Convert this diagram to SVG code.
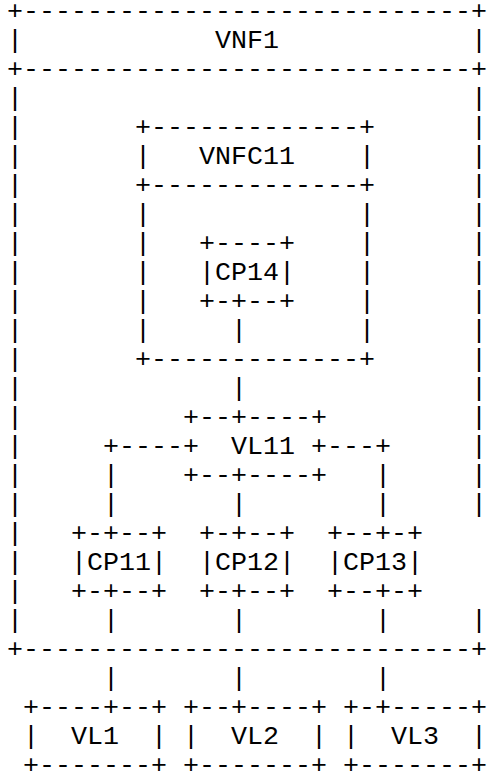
<svg xmlns="http://www.w3.org/2000/svg" width="490" height="782" viewBox="0 0 490 782" xml:space="preserve">
<style>
text{font-family:"Liberation Mono","Courier New",monospace;font-size:26.67px;fill:#000;white-space:pre}
</style>
<rect width="490" height="782" fill="#fff"/>
<g id="vnf1">
<text x="7" y="19">+----------------------------+</text>
<text x="7" y="48">|</text><text x="215" y="48">VNF1</text><text x="471" y="48">|</text>
<text x="7" y="77">+----------------------------+</text>
<text x="7" y="106">|</text><text x="471" y="106">|</text>
<text x="7" y="135">|</text><text x="471" y="135">|</text>
<text x="7" y="164">|</text><text x="471" y="164">|</text>
<text x="7" y="193">|</text><text x="471" y="193">|</text>
<text x="7" y="222">|</text><text x="471" y="222">|</text>
<text x="7" y="251">|</text><text x="471" y="251">|</text>
<text x="7" y="280">|</text><text x="471" y="280">|</text>
<text x="7" y="309">|</text><text x="471" y="309">|</text>
<text x="7" y="338">|</text><text x="471" y="338">|</text>
<text x="7" y="367">|</text><text x="471" y="367">|</text>
<text x="7" y="396">|</text><text x="471" y="396">|</text>
<text x="7" y="425">|</text><text x="471" y="425">|</text>
<text x="7" y="454">|</text><text x="471" y="454">|</text>
<text x="7" y="483">|</text><text x="471" y="483">|</text>
<text x="7" y="512">|</text><text x="471" y="512">|</text>
<text x="7" y="541">|</text>
<text x="7" y="570">|</text>
<text x="7" y="599">|</text>
<text x="7" y="628">|</text><text x="471" y="628">|</text>
<text x="7" y="657">+----------------------------+</text>
</g>
<g id="vnfc11">
<text x="135" y="135">+-------------+</text>
<text x="135" y="164">|</text><text x="199" y="164">VNFC11</text><text x="359" y="164">|</text>
<text x="135" y="193">+-------------+</text>
<text x="135" y="222">|</text><text x="359" y="222">|</text>
<text x="135" y="251">|</text><text x="359" y="251">|</text>
<text x="135" y="280">|</text><text x="359" y="280">|</text>
<text x="135" y="309">|</text><text x="359" y="309">|</text>
<text x="135" y="338">|</text><text x="359" y="338">|</text>
<text x="135" y="367">+-------------+</text>
</g>
<g id="cp14">
<text x="199" y="251">+----+</text>
<text x="199" y="280">|CP14|</text>
<text x="199" y="309">+-+--+</text>
</g>
<g id="vl11">
<text x="183" y="425">+--+----+</text>
<text x="183" y="454">+</text><text x="231" y="454">VL11</text><text x="311" y="454">+</text>
<text x="183" y="483">+--+----+</text>
</g>
<g id="cp11">
<text x="71" y="541">+-+--+</text>
<text x="71" y="570">|CP11|</text>
<text x="71" y="599">+-+--+</text>
</g>
<g id="cp12">
<text x="199" y="541">+-+--+</text>
<text x="199" y="570">|CP12|</text>
<text x="199" y="599">+-+--+</text>
</g>
<g id="cp13">
<text x="327" y="541">+--+-+</text>
<text x="327" y="570">|CP13|</text>
<text x="327" y="599">+--+-+</text>
</g>
<g id="vl1">
<text x="23" y="715">+----+--+</text>
<text x="23" y="744">|  VL1  |</text>
<text x="23" y="773">+-------+</text>
</g>
<g id="vl2">
<text x="183" y="715">+--+----+</text>
<text x="183" y="744">|  VL2  |</text>
<text x="183" y="773">+-------+</text>
</g>
<g id="vl3">
<text x="343" y="715">+-+-----+</text>
<text x="343" y="744">|  VL3  |</text>
<text x="343" y="773">+-------+</text>
</g>
<g id="connectors">
<text x="231" y="338">|</text>
<text x="231" y="396">|</text>
<text x="103" y="454">+----</text><text x="327" y="454">---+</text>
<text x="103" y="483">|</text><text x="375" y="483">|</text>
<text x="103" y="512">|</text><text x="231" y="512">|</text><text x="375" y="512">|</text>
<text x="103" y="628">|</text><text x="231" y="628">|</text><text x="375" y="628">|</text>
<text x="103" y="686">|</text><text x="231" y="686">|</text><text x="375" y="686">|</text>
</g>
</svg>
